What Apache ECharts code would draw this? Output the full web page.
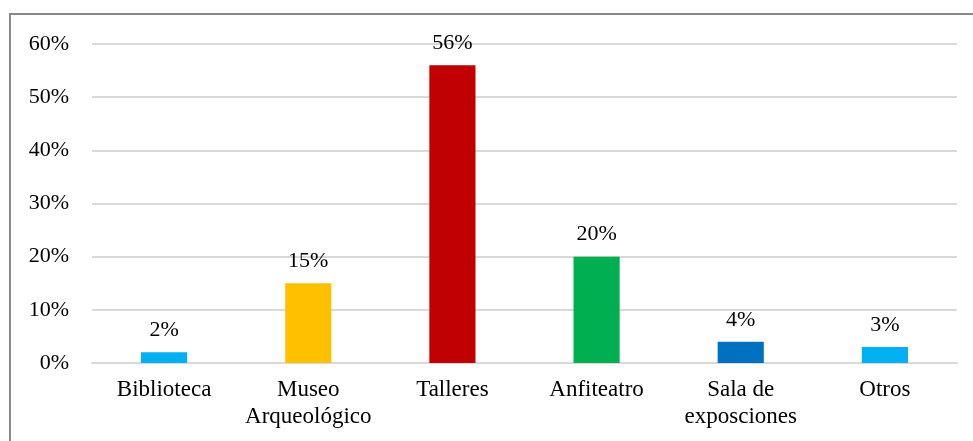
<!DOCTYPE html>
<html>
<head>
<meta charset="utf-8">
<script src="https://cdn.jsdelivr.net/npm/echarts@6/dist/echarts.min.js"></script>
<style>html,body{margin:0;padding:0;background:#fff;}#c{width:973px;height:441px;}</style>
</head>
<body>
<div id="c"></div>
<script>
var categories = ['Biblioteca', 'Museo\nArqueológico', 'Talleres', 'Anfiteatro', 'Sala de\nexposciones', 'Otros'];
var values = [2, 15, 56, 20, 4, 3];
var barColors = ['#00B0F0', '#FFC000', '#C00000', '#00B050', '#0070C0', '#00B0F0'];
var yTicks = [0, 10, 20, 30, 40, 50, 60];

var font = '"Liberation Serif", "Times New Roman", serif';
var chart = echarts.init(document.getElementById('c'));
chart.setOption({
  animation: false,
  textStyle: { fontFamily: font },
  graphic: [{
    type: 'rect', shape: { x: 10, y: 14, width: 1000, height: 500 },
    style: { fill: 'none', stroke: '#898989', lineWidth: 2 }, silent: true, z: -1
  }],
  grid: { left: 92, right: 16, top: 44, bottom: 78 },
  xAxis: {
    type: 'category', data: categories,
    axisLine: { show: true, lineStyle: { color: '#d9d9d9', width: 2 } },
    axisTick: { show: false },
    axisLabel: { color: '#000', fontSize: 23, fontFamily: font, lineHeight: 27, margin: 13, interval: 0 }
  },
  yAxis: {
    type: 'value', min: yTicks[0], max: yTicks[yTicks.length - 1], interval: 10,
    axisLine: { show: false }, axisTick: { show: false },
    splitLine: { lineStyle: { color: '#d9d9d9', width: 2 } },
    axisLabel: { color: '#000', fontSize: 22, fontFamily: font, margin: 23, formatter: '{value}%' }
  },
  series: [{
    type: 'bar', barWidth: '32%',
    data: values.map(function (v, i) { return { value: v, itemStyle: { color: barColors[i] } }; }),
    label: { show: true, position: 'top', distance: 11, color: '#000', fontSize: 22, fontFamily: font, formatter: '{c}%' }
  }]
});
</script>
</body>
</html>
